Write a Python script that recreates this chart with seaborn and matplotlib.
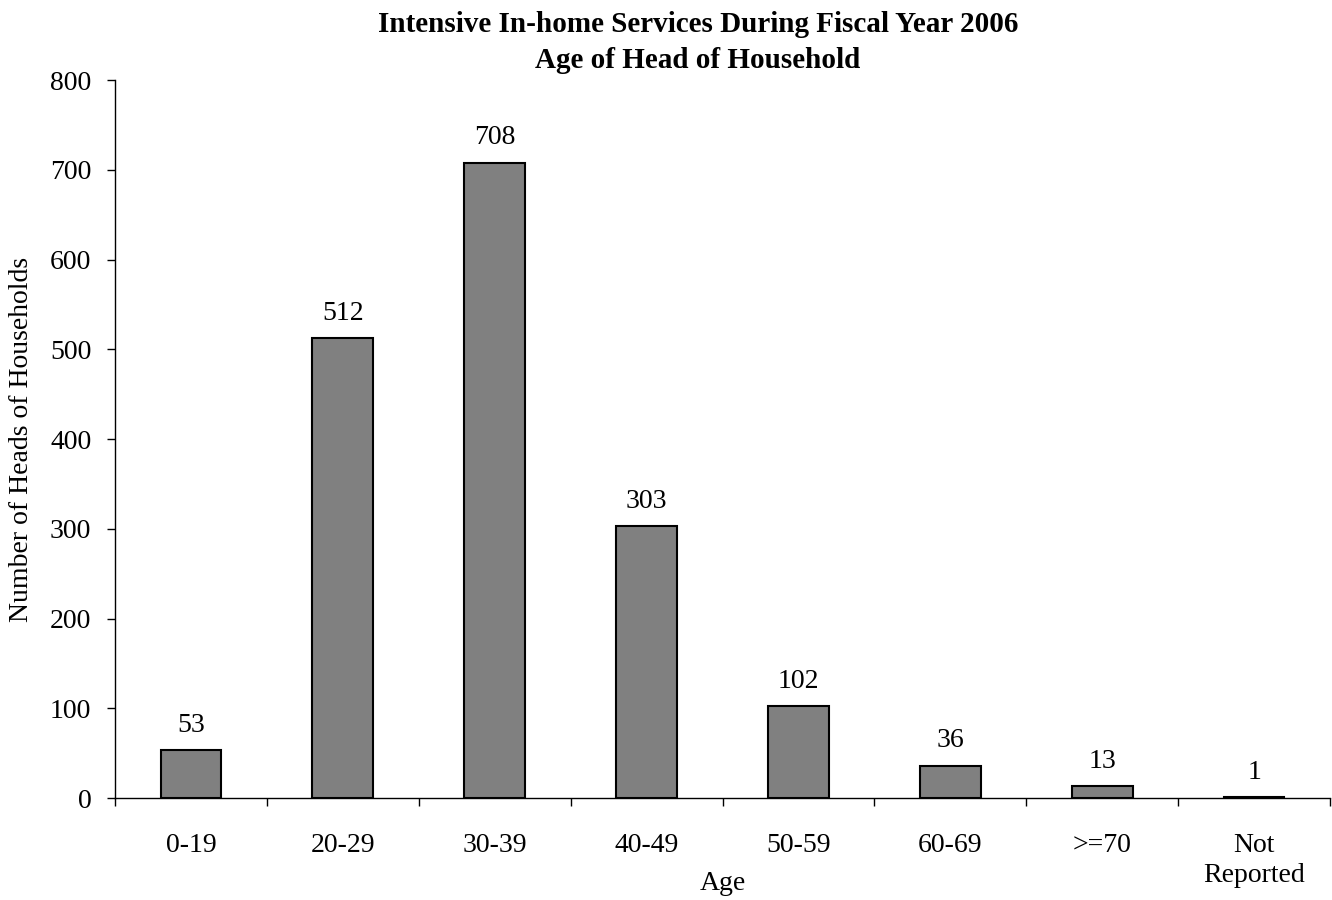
import matplotlib
matplotlib.use("Agg")
import matplotlib.pyplot as plt
import seaborn as sns
import pandas as pd
import numpy as np

# data
age_groups = ["0-19", "20-29", "30-39", "40-49", "50-59", "60-69", ">=70", "Not\nReported"]
households = [53, 512, 708, 303, 102, 36, 13, 1]

sns.set_style("white")
plt.rcParams["font.family"] = ["Liberation Serif", "DejaVu Serif"]
plt.rcParams["text.color"] = "black"
plt.rcParams["xtick.color"] = "black"
plt.rcParams["ytick.color"] = "black"
plt.rcParams["axes.labelcolor"] = "black"

df = pd.DataFrame({"age": age_groups, "count": households})

fig = plt.figure(figsize=(13.32, 9), dpi=100)
ax = fig.add_axes([115 / 1332, 1 - 798 / 900, (1330 - 115) / 1332, (798 - 80) / 900])

sns.barplot(data=df, x="age", y="count", color="#808080", saturation=1,
            edgecolor="black", linewidth=1.5, width=0.4, ax=ax)

ax.bar_label(ax.containers[0], fontsize=20, padding=9)

ax.set_xlim(-0.5, len(age_groups) - 0.5)
ax.set_ylim(0, 800)
ax.set_yticks(np.arange(0, 801, 100))

for side in ["top", "right"]:
    ax.spines[side].set_visible(False)
for side in ["left", "bottom"]:
    ax.spines[side].set_color("black")
    ax.spines[side].set_linewidth(1.0)

# category labels without ticks, boundary ticks as minor ticks
ax.tick_params(axis="x", which="major", length=0, pad=25, labelsize=20)
ax.set_xticks(np.arange(-0.5, len(age_groups)), minor=True)
ax.tick_params(axis="x", which="minor", bottom=True, length=6, width=1,
               color="black", direction="out")
for lab in ax.get_xticklabels():
    lab.set_multialignment("center")
    lab.set_linespacing(1.3)

ax.tick_params(axis="y", length=6, width=1, color="black", direction="out",
               left=True, pad=11, labelsize=20)

ax.set_xlabel("Age", fontsize=20, va="center")
ax.xaxis.set_label_coords(0.5, -85 / 718)
ax.set_ylabel("Number of Heads of Households", fontsize=20, va="center")
ax.yaxis.set_label_coords(-93 / 1215, 0.5)

fig.text(698 / 1332, 1 - 24 / 900, "Intensive In-home Services During Fiscal Year 2006",
         ha="center", va="center", fontsize=21, fontweight="bold")
fig.text(698 / 1332, 1 - 61 / 900, "Age of Head of Household",
         ha="center", va="center", fontsize=21, fontweight="bold")

fig.savefig("out.png", dpi=100)
